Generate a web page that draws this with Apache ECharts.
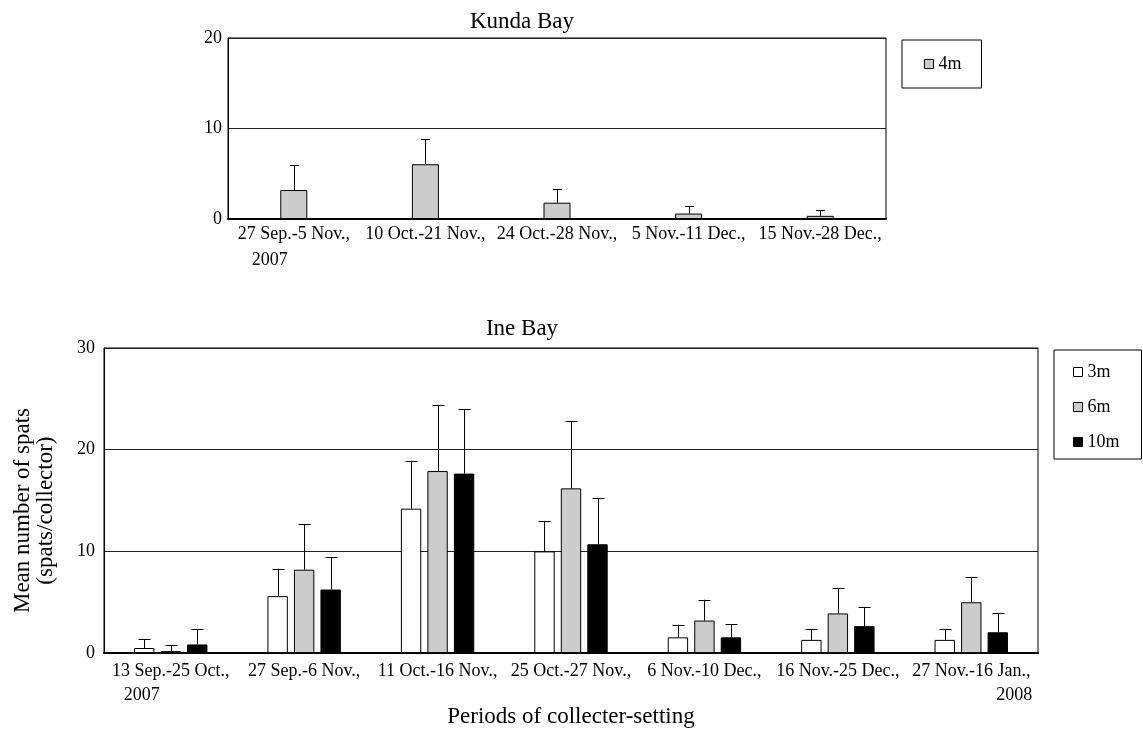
<!DOCTYPE html>
<html>
<head>
<meta charset="utf-8">
<script src="https://cdn.jsdelivr.net/npm/echarts@6/dist/echarts.min.js"></script>
<style>
html,body{margin:0;padding:0;background:#fff;}
#chart{width:1143px;height:729px;}
</style>
</head>
<body>
<div id="chart"></div>
<script>
// ---- Data ----
var kundaCategories = ['27 Sep.-5 Nov.,', '10 Oct.-21 Nov.,', '24 Oct.-28 Nov.,', '5 Nov.-11 Dec.,', '15 Nov.-28 Dec.,'];
var kunda4m = [3.2, 6.05, 1.8, 0.6, 0.35];
var kunda4mTop = [5.95, 8.8, 3.3, 1.4, 0.95];

var ineCategories = ['13 Sep.-25 Oct.,', '27 Sep.-6 Nov.,', '11 Oct.-16 Nov.,', '25 Oct.-27 Nov.,', '6 Nov.-10 Dec.,', '16 Nov.-25 Dec.,', '27 Nov.-16 Jan.,'];
var ine3m = [0.5, 5.6, 14.2, 10.0, 1.55, 1.3, 1.3];
var ine3mTop = [1.35, 8.3, 18.9, 13.0, 2.8, 2.35, 2.35];
var ine6m = [0.2, 8.2, 17.9, 16.2, 3.2, 3.9, 5.0];
var ine6mTop = [0.75, 12.7, 24.4, 22.8, 5.25, 6.4, 7.5];
var ine10m = [0.85, 6.25, 17.65, 10.7, 1.55, 2.65, 2.05];
var ine10mTop = [2.35, 9.45, 24.0, 15.25, 2.85, 4.55, 3.9];

var kundaYTicks = [0, 10, 20];
var ineYTicks = [0, 10, 20, 30];

var FONT = 'Liberation Serif';

function errData(vals, tops) {
  return vals.map(function (v, i) { return [i, v, tops[i]]; });
}

function errRender(offsetFrac, capW) {
  return function (params, api) {
    var i = api.value(0), v = api.value(1), t = api.value(2);
    var band = api.size([1, 0])[0];
    var p0 = api.coord([i, v]);
    var p1 = api.coord([i, t]);
    var x = Math.round(p0[0] + offsetFrac * band) + 0.5;
    var c = capW / 2;
    return {
      type: 'group',
      children: [
        { type: 'line', shape: { x1: x, y1: p0[1], x2: x, y2: p1[1] }, style: { stroke: '#000', lineWidth: 1 } },
        { type: 'line', shape: { x1: x - c, y1: Math.round(p1[1]) + 0.5, x2: x + c, y2: Math.round(p1[1]) + 0.5 }, style: { stroke: '#000', lineWidth: 1 } }
      ]
    };
  };
}

var barFrac = 0.55 / 3.6 * 1.3;

var chart = echarts.init(document.getElementById('chart'), null, { renderer: 'canvas' });

var option = {
  backgroundColor: '#fff',
  animation: false,
  textStyle: { fontFamily: FONT, color: '#000' },
  title: [
    { text: 'Kunda Bay', left: 517, top: 5, textAlign: 'center',
      textStyle: { fontFamily: FONT, fontSize: 23, fontWeight: 'normal', color: '#000' } },
    { text: 'Ine Bay', left: 517, top: 312, textAlign: 'center',
      textStyle: { fontFamily: FONT, fontSize: 23, fontWeight: 'normal', color: '#000' } }
  ],
  legend: [
    { data: ['4m'], orient: 'vertical', left: 902, top: 40,
      padding: [15, 20, 15, 22], itemWidth: 9, itemHeight: 9, itemGap: 10, itemTextGap: 10,
      borderColor: '#000', borderWidth: 1, icon: 'rect',
      itemStyle: { borderColor: '#000', borderWidth: 1 },
      textStyle: { fontFamily: FONT, fontSize: 18, color: '#000' } },
    { data: ['3m', '6m', '10m'], orient: 'vertical', left: 1054, top: 350,
      padding: [13, 22, 8, 19], itemWidth: 9, itemHeight: 9, itemGap: 17, itemTextGap: 10,
      borderColor: '#000', borderWidth: 1, icon: 'rect',
      itemStyle: { borderColor: '#000', borderWidth: 1 },
      textStyle: { fontFamily: FONT, fontSize: 18, color: '#000' } }
  ],
  grid: [
    { left: 228, top: 38, width: 658, height: 181, show: true, borderColor: '#000', borderWidth: 1, containLabel: false },
    { left: 104, top: 348, width: 934, height: 313, show: true, borderColor: '#000', borderWidth: 1, containLabel: false }
  ],
  xAxis: [
    { type: 'category', gridIndex: 0, data: kundaCategories,
      axisLine: { lineStyle: { color: '#000', width: 2 } },
      axisTick: { inside: true, length: 6, interval: 0, lineStyle: { color: '#000' } },
      axisLabel: { interval: 0, margin: 2, color: '#000', fontFamily: FONT, fontSize: 18,
        formatter: function (val, idx) {
          return idx === 0 ? '{a|' + val + '}\n{b|2007}' : '{a|' + val + '}';
        },
        rich: {
          a: { fontFamily: FONT, fontSize: 18, lineHeight: 26, color: '#000' },
          b: { fontFamily: FONT, fontSize: 18, lineHeight: 26, color: '#000', padding: [0, 48, 0, 0] }
        } },
      splitLine: { show: false } },
    { type: 'category', gridIndex: 1, data: ineCategories,
      name: 'Periods of collecter-setting', nameLocation: 'middle', nameGap: 44,
      nameTextStyle: { fontFamily: FONT, fontSize: 23, color: '#000' },
      axisLine: { lineStyle: { color: '#000', width: 2 } },
      axisTick: { inside: true, length: 6, interval: 0, lineStyle: { color: '#000' } },
      axisLabel: { interval: 0, margin: 6, color: '#000', fontFamily: FONT, fontSize: 18,
        formatter: function (val, idx) {
          if (idx === 0) return '{a|' + val + '}\n{b|2007}';
          if (idx === ineCategories.length - 1) return '{a|' + val + '}\n{c|2008}';
          return '{a|' + val + '}';
        },
        rich: {
          a: { fontFamily: FONT, fontSize: 18, lineHeight: 24, color: '#000' },
          b: { fontFamily: FONT, fontSize: 18, lineHeight: 24, color: '#000', padding: [0, 58, 0, 0] },
          c: { fontFamily: FONT, fontSize: 18, lineHeight: 24, color: '#000', padding: [0, 0, 0, 86] }
        } },
      splitLine: { show: false } }
  ],
  yAxis: [
    { type: 'value', gridIndex: 0, min: 0, max: 20, interval: 10,
      axisLine: { show: true, lineStyle: { color: '#000', width: 1 } },
      axisTick: { show: false },
      axisLabel: { margin: 6, color: '#000', fontFamily: FONT, fontSize: 18 },
      splitLine: { show: true, lineStyle: { color: '#222', width: 1 } } },
    { type: 'value', gridIndex: 1, min: 0, max: 30, interval: 10,
      name: 'Mean number of spats\n(spats/collector)', nameLocation: 'middle', nameGap: 47, nameRotate: 90,
      nameTextStyle: { fontFamily: FONT, fontSize: 23, color: '#000', lineHeight: 23, padding: [0, 20, 0, 0] },
      axisLine: { show: true, lineStyle: { color: '#000', width: 1 } },
      axisTick: { show: false },
      axisLabel: { margin: 9, color: '#000', fontFamily: FONT, fontSize: 18 },
      splitLine: { show: true, lineStyle: { color: '#222', width: 1 } } }
  ],
  series: [
    { name: '4m', type: 'bar', xAxisIndex: 0, yAxisIndex: 0, data: kunda4m, barWidth: 27,
      itemStyle: { color: '#cccccc', borderColor: '#000', borderWidth: 1 } },
    { name: '4m err', type: 'custom', xAxisIndex: 0, yAxisIndex: 0, z: 5,
      data: errData(kunda4m, kunda4mTop), encode: { x: 0, y: [1, 2] },
      renderItem: errRender(0, 9) },

    { name: '3m', type: 'bar', xAxisIndex: 1, yAxisIndex: 1, data: ine3m,
      barGap: '30%', barCategoryGap: '45%',
      itemStyle: { color: '#ffffff', borderColor: '#000', borderWidth: 1 } },
    { name: '6m', type: 'bar', xAxisIndex: 1, yAxisIndex: 1, data: ine6m,
      barGap: '30%', barCategoryGap: '45%',
      itemStyle: { color: '#cccccc', borderColor: '#000', borderWidth: 1 } },
    { name: '10m', type: 'bar', xAxisIndex: 1, yAxisIndex: 1, data: ine10m,
      barGap: '30%', barCategoryGap: '45%',
      itemStyle: { color: '#000000', borderColor: '#000', borderWidth: 1 } },
    { name: '3m err', type: 'custom', xAxisIndex: 1, yAxisIndex: 1, z: 5,
      data: errData(ine3m, ine3mTop), encode: { x: 0, y: [1, 2] },
      renderItem: errRender(-barFrac, 12) },
    { name: '6m err', type: 'custom', xAxisIndex: 1, yAxisIndex: 1, z: 5,
      data: errData(ine6m, ine6mTop), encode: { x: 0, y: [1, 2] },
      renderItem: errRender(0, 12) },
    { name: '10m err', type: 'custom', xAxisIndex: 1, yAxisIndex: 1, z: 5,
      data: errData(ine10m, ine10mTop), encode: { x: 0, y: [1, 2] },
      renderItem: errRender(barFrac, 12) }
  ]
};
chart.setOption(option);
</script>
</body>
</html>
